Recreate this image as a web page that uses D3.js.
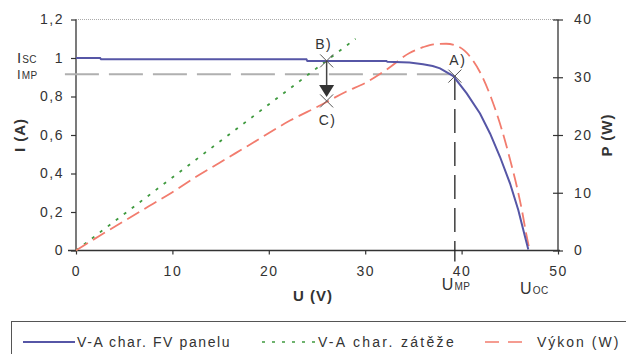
<!DOCTYPE html>
<html>
<head>
<meta charset="utf-8">
<script src="https://cdn.jsdelivr.net/npm/d3@7/dist/d3.min.js"></script>
<style>
  html, body { margin: 0; padding: 0; background: #fff; }
  svg { display: block; }
  text { font-family: "Liberation Sans", Arial, sans-serif; fill: #333; }
</style>
</head>
<body>
<svg id="chart" width="626" height="354"></svg>
<script>
// ---- data ----
const xTicks = [0, 10, 20, 30, 40, 50];
const yLeftTicks = [0, 0.2, 0.4, 0.6, 0.8, 1, 1.2];
const yRightTicks = [0, 10, 20, 30, 40];

// V-A char. FV panelu (U in V, I in A)
const panelU = [0, 2.5, 2.6, 23.9, 24.0, 32.2, 32.3, 34.6, 36.0, 37.0, 37.76, 39.14, 40.53, 41.91, 42.95, 43.98, 45.02, 45.88, 46.58, 46.92];
const panelI = [1.0, 1.0, 0.994, 0.994, 0.985, 0.985, 0.98, 0.977, 0.968, 0.958, 0.946, 0.906, 0.816, 0.712, 0.608, 0.487, 0.349, 0.210, 0.072, 0.005];

// V-A char. zátěže (load line)
const loadU = [0, 29];
const loadI = [0, 1.10];

// Výkon (W)
const powerU = [0, 2.5, 5, 8, 10, 12.5, 14.9, 18.4, 22.2, 25.3, 28, 30.1, 32.2, 34.6, 36, 37.1, 38.4, 39.4, 40.3, 41.05, 42.09, 43.12, 44.16, 45.02, 45.71, 46.23, 46.68, 47.02];
const powerP = [0, 2.6, 5.1, 8.1, 10.1, 12.8, 15.2, 18.7, 22.5, 25.1, 27.5, 29.1, 31.3, 34.2, 35.2, 35.7, 35.8, 35.5, 34.6, 33.2, 30.3, 26.2, 21.0, 15.8, 11.2, 7.2, 3.1, 0.3];

// key points
const Isc = 1.0, Imp = 0.916, Ump = 39.3, Uoc = 47.0;
const pointA = {u: 39.3, i: 0.906};
const pointB = {u: 26, i: 0.985};
const pointC = {u: 26, p: 25.9};

const legendLabels = ["V-A char. FV panelu", "V-A char. zátěže", "Výkon (W)"];

// ---- layout ----
const svg = d3.select("#chart");
const x = d3.scaleLinear().domain([0, 50]).range([76, 558]);
const yL = d3.scaleLinear().domain([0, 1.2]).range([250.5, 19.5]);
const yR = d3.scaleLinear().domain([0, 40]).range([250.5, 19.5]);

const fmt = d => String(d).replace(".", ",");
const axisColor = "#333";

// top gridline at 1.2
svg.append("line")
  .attr("x1", x(0)).attr("x2", x(50))
  .attr("y1", yL(1.2)).attr("y2", yL(1.2))
  .attr("stroke", "#aaa").attr("stroke-width", 1).attr("stroke-dasharray", "1,1");

// left axis
const gL = svg.append("g").attr("transform", `translate(${x(0)},0)`)
  .call(d3.axisLeft(yL).tickValues(yLeftTicks).tickFormat(fmt).tickSize(5).tickPadding(7));
// right axis
const gR = svg.append("g").attr("transform", `translate(${x(50)},0)`)
  .call(d3.axisRight(yR).tickValues(yRightTicks).tickSize(5).tickPadding(11));
gR.selectAll(".tick line").attr("x1", -5);
// bottom axis
const gB = svg.append("g").attr("transform", `translate(0,${yL(0)})`)
  .call(d3.axisBottom(x).tickValues(xTicks).tickSize(4).tickPadding(12));

[gL, gR, gB].forEach(g => {
  g.select(".domain").attr("stroke", axisColor).attr("stroke-width", 1.3);
  g.selectAll(".tick line").attr("stroke", axisColor).attr("stroke-width", 1.2);
  g.selectAll(".tick text").attr("fill", "#333")
    .style("font-family", '"Liberation Sans", Arial, sans-serif')
    .style("font-size", "14px").style("letter-spacing", "1.5px");
});
gL.select(".domain").attr("d", `M0,${yL(1.2)}V${yL(0)}`);
gR.select(".domain").attr("d", `M0,${yR(40)}V${yR(0)}`);
gB.select(".domain").attr("d", `M${x(0) - 8},0H${x(50) + 2}`);

// axis titles
svg.append("text").attr("transform", `translate(25,135) rotate(-90)`)
  .attr("text-anchor", "middle").style("font-size", "15px").style("font-weight", "bold")
  .style("letter-spacing", "1px").text("I (A)");
svg.append("text").attr("transform", `translate(612,135) rotate(-90)`)
  .attr("text-anchor", "middle").style("font-size", "15px").style("font-weight", "bold")
  .style("letter-spacing", "1px").text("P (W)");
svg.append("text").attr("x", 313).attr("y", 301)
  .attr("text-anchor", "middle").style("font-size", "15px").style("font-weight", "bold")
  .style("letter-spacing", "1px").text("U (V)");

// I_MP gray dashed line
svg.append("line")
  .attr("x1", x(-1.15)).attr("x2", x(Ump))
  .attr("y1", yL(Imp)).attr("y2", yL(Imp))
  .attr("stroke", "#b0b0b0").attr("stroke-width", 2).attr("stroke-dasharray", "34,10");

// U_MP vertical dashed line
svg.append("line")
  .attr("x1", x(Ump)).attr("x2", x(Ump))
  .attr("y1", yL(pointA.i)).attr("y2", yL(0) + 11)
  .attr("stroke", "#222").attr("stroke-width", 1.3).attr("stroke-dasharray", "24,9");

// load line
svg.append("path")
  .datum(loadU.map((u, k) => [u, loadI[k]]))
  .attr("fill", "none").attr("stroke", "#3f9a3f").attr("stroke-width", 1.8)
  .attr("stroke-dasharray", "3,7")
  .attr("d", d3.line().x(d => x(d[0])).y(d => yL(d[1])));

// power curve
svg.append("path")
  .datum(powerU.map((u, k) => [u, powerP[k]]))
  .attr("fill", "none").attr("stroke", "#f27c6e").attr("stroke-width", 1.8)
  .attr("stroke-dasharray", "14,6")
  .attr("d", d3.line().curve(d3.curveMonotoneX).x(d => x(d[0])).y(d => yR(d[1])));

// panel curve
svg.append("path")
  .datum(panelU.map((u, k) => [u, panelI[k]]))
  .attr("fill", "none").attr("stroke", "#5656a6").attr("stroke-width", 2)
  .attr("d", d3.line().x(d => x(d[0])).y(d => yL(d[1])));

// cross markers
function cross(cx, cy) {
  const s = 6.5;
  svg.append("path")
    .attr("d", `M${cx - s},${cy - s}L${cx + s},${cy + s}M${cx - s},${cy + s}L${cx + s},${cy - s}`)
    .attr("stroke", "#555").attr("stroke-width", 1);
}
cross(x(pointA.u), yL(pointA.i));
cross(x(pointB.u), yL(pointB.i));
cross(x(pointC.u), yR(pointC.p));

// arrow B -> C
const ax = x(pointB.u);
svg.append("line").attr("x1", ax).attr("x2", ax)
  .attr("y1", yL(pointB.i)).attr("y2", yL(pointB.i) + 25)
  .attr("stroke", "#444").attr("stroke-width", 1.5);
svg.append("path")
  .attr("d", `M${ax - 7.5},${yL(pointB.i) + 24}L${ax + 7.5},${yL(pointB.i) + 24}L${ax},${yL(pointB.i) + 36}Z`)
  .attr("fill", "#333");

// point labels
const lblStyle = s => s.style("font-size", "14px").style("letter-spacing", "1.5px").attr("fill", "#444");
svg.append("text").attr("x", x(pointA.u) + 3).attr("y", yL(pointA.i) - 11).attr("text-anchor", "middle").text("A)").call(lblStyle);
svg.append("text").attr("x", x(pointB.u) - 3).attr("y", yL(pointB.i) - 12).attr("text-anchor", "middle").text("B)").call(lblStyle);
svg.append("text").attr("x", x(pointC.u) + 1).attr("y", yR(pointC.p) + 24).attr("text-anchor", "middle").text("C)").call(lblStyle);

// subscripted labels
function subLabel(px, py, main, sub, color, size) {
  const t = svg.append("text").attr("x", px).attr("y", py).attr("fill", color);
  t.append("tspan").style("font-size", size + "px").text(main);
  t.append("tspan").attr("dx", 1).style("font-size", "10px").style("letter-spacing", "0.5px").text(sub);
}
subLabel(17, yL(Isc) + 4.5, "I", "SC", "#444", 15);
subLabel(17, yL(Imp) + 5, "I", "MP", "#555", 13);
subLabel(x(Ump) - 13, 290, "U", "MP", "#5c6b62", 16);
subLabel(x(Uoc) - 9, 294, "U", "OC", "#555", 16);

// legend
svg.append("rect").attr("x", 11.5).attr("y", 321.5).attr("width", 700).attr("height", 100)
  .attr("fill", "none").attr("stroke", "#555").attr("stroke-width", 1);
const ly = 342;
const items = [
  {x0: 23, x1: 75, tx: 77, stroke: "#5656a6", dash: null, w: 2, ls: 1.6},
  {x0: 262, x1: 317, tx: 318, stroke: "#3f9a3f", dash: "3,7", w: 1.5, ls: 2.3},
  {x0: 485, x1: 523, tx: 537, stroke: "#f27c6e", dash: "14,9", w: 1.5, ls: 2.0}
];
items.forEach((it, k) => {
  svg.append("line").attr("x1", it.x0).attr("x2", it.x1).attr("y1", ly).attr("y2", ly)
    .attr("stroke", it.stroke).attr("stroke-width", it.w).attr("stroke-dasharray", it.dash);
  svg.append("text").attr("x", it.tx).attr("y", ly + 5).style("font-size", "14px")
    .style("letter-spacing", it.ls + "px").attr("fill", "#222").text(legendLabels[k]);
});
</script>
</body>
</html>
